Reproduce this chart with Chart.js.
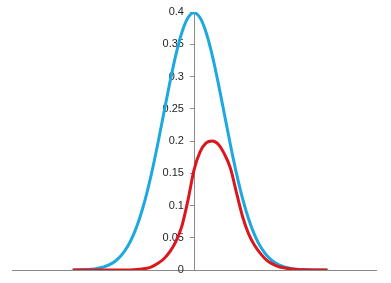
<!DOCTYPE html>
<html>
<head>
<meta charset="utf-8">
<script src="https://cdn.jsdelivr.net/npm/chart.js@4/dist/chart.umd.min.js"></script>
<style>
  html, body { margin: 0; padding: 0; background: #fff; }
  #wrap { width: 391px; height: 283px; position: relative; }
</style>
</head>
<body>
<div id="wrap"><canvas id="myChart"></canvas></div>
<script>
// x positions (-4 .. 4.4, step 0.2)
var xValues = [-4.0, -3.8, -3.6, -3.4, -3.2, -3.0, -2.8, -2.6, -2.4, -2.2,
               -2.0, -1.8, -1.6, -1.4, -1.2, -1.0, -0.8, -0.6, -0.4, -0.2,
                0.0,  0.2,  0.4,  0.6,  0.8,  1.0,  1.2,  1.4,  1.6,  1.8,
                2.0,  2.2,  2.4,  2.6,  2.8,  3.0,  3.2,  3.4,  3.6,  3.8,
                4.0,  4.2,  4.4];

// blue curve (wide bell, peak 0.4)
var blueValues = [0.0001, 0.0003, 0.0006, 0.0012, 0.0024, 0.0044, 0.0079, 0.0136, 0.0224, 0.0355,
                  0.0540, 0.0790, 0.1109, 0.1497, 0.1942, 0.2420, 0.2897, 0.3332, 0.3683, 0.3910,
                  0.3989, 0.3910, 0.3683, 0.3332, 0.2897, 0.2420, 0.1942, 0.1497, 0.1109, 0.0790,
                  0.0540, 0.0355, 0.0224, 0.0136, 0.0079, 0.0044, 0.0024, 0.0012, 0.0006, 0.0003,
                  0.0001, 0.0001, 0.0000];

// red curve (smaller, shifted right, peak 0.2)
var redValues = [0, 0, 0, 0, 0, 0, 0, 0, 0, 0,
                 0.0003, 0.0010, 0.0022, 0.0050, 0.0100, 0.0170, 0.0280, 0.0440, 0.0680, 0.1080,
                 0.1550, 0.1830, 0.1970, 0.2000, 0.1950, 0.1800, 0.1580, 0.1200, 0.0830, 0.0560,
                 0.0380, 0.0250, 0.0150, 0.0090, 0.0050, 0.0030, 0.0015, 0.0007, 0.0003, 0.0001,
                 0, 0, 0];

var yTicks = [0, 0.05, 0.1, 0.15, 0.2, 0.25, 0.3, 0.35, 0.4];

function toPoints(xs, ys) {
    return xs.map(function (x, i) { return { x: x, y: ys[i] }; });
}

function setTicks(axis) {
    axis.ticks = yTicks.map(function (v) { return { value: v }; });
}

var ctx = document.getElementById('myChart').getContext('2d');
var myChart = new Chart(ctx, {
    type: 'line',
    data: {
        datasets: [{
            label: 'Rojo',
            data: toPoints(xValues, redValues),
            borderColor: '#D9171C',
            borderWidth: 3,
            pointRadius: 0,
            fill: false,
            cubicInterpolationMode: 'monotone',
            order: 0
        },
        {
            label: 'Azul',
            data: toPoints(xValues, blueValues),
            borderColor: '#1EA8E0',
            borderWidth: 3,
            pointRadius: 0,
            fill: false,
            cubicInterpolationMode: 'monotone',
            order: 1
        }]
    },
    options: {
        responsive: true,
        maintainAspectRatio: false,
        animation: false,
        layout: {
            padding: { top: 12, bottom: 13, left: 12, right: 15 }
        },
        scales: {
            x: {
                type: 'linear',
                min: -6,
                max: 6,
                ticks: { display: false },
                grid: { display: false, drawTicks: false },
                border: { display: true, color: '#8a8a8a', width: 1 }
            },
            // the axis line and tick marks, crossing at x = 0
            y: {
                type: 'linear',
                position: { x: 0 },
                min: 0,
                max: 0.4,
                afterBuildTicks: setTicks,
                ticks: { display: false },
                grid: {
                    drawOnChartArea: false,
                    drawTicks: true,
                    tickLength: 4,
                    color: '#8a8a8a'
                },
                border: { display: true, color: '#8a8a8a', width: 1 }
            },
            // labels only, set a little to the left of the axis line
            yLabels: {
                type: 'linear',
                axis: 'y',
                position: { x: -0.33 },
                min: 0,
                max: 0.4,
                afterBuildTicks: setTicks,
                ticks: {
                    color: '#262626',
                    font: { family: 'Liberation Sans', size: 11 },
                    callback: function (v) { return String(v); }
                },
                grid: { display: false, drawTicks: false },
                border: { display: false }
            }
        },
        plugins: {
            legend: { display: false },
            tooltip: { enabled: false }
        }
    }
});
</script>
</body>
</html>
